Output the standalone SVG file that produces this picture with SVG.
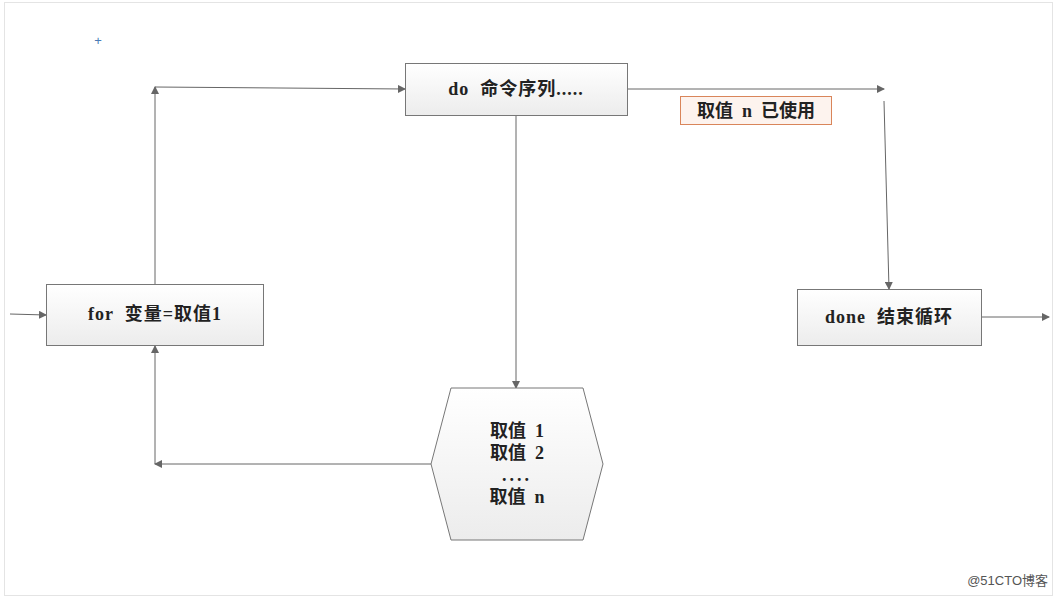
<svg xmlns="http://www.w3.org/2000/svg" width="1057" height="598" viewBox="0 0 1057 598">
<defs>
<linearGradient id="g" x1="0" y1="0" x2="0" y2="1"><stop offset="0" stop-color="#ffffff"/><stop offset="1" stop-color="#ececec"/></linearGradient>
<marker id="a" markerWidth="8" markerHeight="8" refX="7" refY="4" orient="auto" markerUnits="userSpaceOnUse"><path d="M0,0 L8,4 L0,8 z" fill="#666"/></marker>
</defs>
<style>
.n{fill:url(#g);stroke:#777;stroke-width:1}
.t{font-family:"Liberation Serif","Noto Sans CJK SC",serif;font-size:18px;font-weight:bold;fill:#222;text-anchor:middle;white-space:pre}
.c{fill:none;stroke:#666;stroke-width:1;marker-end:url(#a)}
</style>
<rect x="0" y="0" width="1057" height="598" fill="#fff"/>
<rect x="4.5" y="2.5" width="1048" height="593" fill="none" stroke="#e4e4e4"/>
<text x="98" y="45" font-family="Liberation Sans,sans-serif" font-size="13" fill="#4a7ab5" text-anchor="middle">+</text>
<g id="connectors">
<path class="c" d="M10,314 L46,315"/>
<path class="c" d="M155,284 L155,87"/>
<path class="c" d="M155,87 L405,89"/>
<path class="c" d="M627,89 L884,89"/>
<path class="c" d="M884,101 L889,289"/>
<path class="c" d="M982,317 L1049,317"/>
<path class="c" d="M516,116 L516,388"/>
<path class="c" d="M431,464 L155,464"/>
<path class="c" d="M155,464 L155,346"/>
</g>
<g id="do"><rect class="n" x="405.5" y="63.5" width="222" height="52"/><text class="t" x="516" y="95" letter-spacing="1">do  命令序列.....</text></g>
<g id="label"><rect x="680.5" y="96.5" width="151" height="28" fill="#fdf3ee" stroke="#d9855a"/><text class="t" x="756" y="117" font-size="16">取值  n  已使用</text></g>
<g id="for"><rect class="n" x="46.5" y="284.5" width="217" height="61"/><text class="t" x="155" y="320" letter-spacing="1">for  变量=取值1</text></g>
<g id="done"><rect class="n" x="797.5" y="289.5" width="184" height="56"/><text class="t" x="889" y="323" letter-spacing="1">done  结束循环</text></g>
<g id="values"><polygon class="n" points="451,388 583,388 603,464 583,540 451,540 431,464"/>
<text class="t" x="517" y="437">取值  1</text><text class="t" x="517" y="459">取值  2</text><text class="t" x="517" y="481" letter-spacing="3">....</text><text class="t" x="517" y="503">取值  n</text></g>
<text x="1048" y="585" font-family="Liberation Sans,'Noto Sans CJK SC',sans-serif" font-size="13" fill="#555" text-anchor="end">@51CTO博客</text>
</svg>
